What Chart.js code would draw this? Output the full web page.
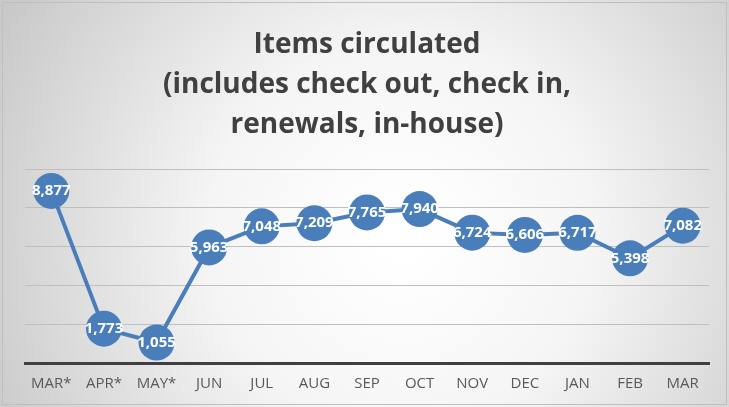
<!DOCTYPE html>
<html>
<head>
<meta charset="utf-8">
<script src="https://cdn.jsdelivr.net/npm/chart.js@4.4.1/dist/chart.umd.min.js"></script>
<style>
  html, body { margin: 0; padding: 0; background: #fff; }
  #wrap { width: 729px; height: 407px; position: relative; }
</style>
</head>
<body>
<div id="wrap"><canvas id="circChart"></canvas></div>
<script>
const months = ['MAR*', 'APR*', 'MAY*', 'JUN', 'JUL', 'AUG', 'SEP', 'OCT', 'NOV', 'DEC', 'JAN', 'FEB', 'MAR'];
const itemsCirculated = [8877, 1773, 1055, 5963, 7048, 7209, 7765, 7940, 6724, 6606, 6717, 5398, 7082];
const titleLines = ['Items circulated', '(includes check out, check in,', 'renewals, in-house)'];

// fond dégradé + cadre
const backdrop = {
    id: 'backdrop',
    beforeDraw(chart) {
        const c = chart.ctx;
        const w = chart.width, h = chart.height;
        c.save();
        const g = c.createRadialGradient(w * 0.55, h * 0.58, 20, w * 0.55, h * 0.58, w * 0.62);
        g.addColorStop(0, '#ffffff');
        g.addColorStop(0.4, '#f5f5f5');
        g.addColorStop(1, '#c9c9c9');
        c.fillStyle = g;
        c.fillRect(0, 0, w, h);
        c.strokeStyle = '#bfbfbf';
        c.lineWidth = 1;
        c.strokeRect(2.5, 2.5, w - 5, h - 5);
        c.restore();
    }
};

// étiquettes de valeurs au centre des points
const pointLabels = {
    id: 'pointLabels',
    afterDatasetsDraw(chart) {
        const c = chart.ctx;
        const meta = chart.getDatasetMeta(0);
        c.save();
        c.fillStyle = '#ffffff';
        c.font = 'bold 15px "Open Sans", Lato, sans-serif';
        c.textAlign = 'center';
        c.textBaseline = 'middle';
        meta.data.forEach((pt, i) => {
            c.fillText(itemsCirculated[i].toLocaleString('en-US'), pt.x, pt.y);
        });
        c.restore();
    }
};

const ctx = document.getElementById('circChart').getContext('2d');
new Chart(ctx, {
    type: 'line',
    data: {
        labels: months,
        datasets: [{
            data: itemsCirculated,
            borderColor: '#4a7ebb',
            borderWidth: 4,
            pointRadius: 18,
            pointBackgroundColor: '#4a7ebb',
            pointBorderColor: '#4a7ebb',
            pointBorderWidth: 0,
            tension: 0
        }]
    },
    options: {
        responsive: true,
        maintainAspectRatio: false,
        animation: false,
        layout: { padding: { left: 25, right: 20, top: 0, bottom: 2 } },
        plugins: {
            legend: { display: false },
            tooltip: { enabled: false },
            title: {
                display: true,
                text: titleLines,
                color: '#404040',
                font: { family: '"Open Sans", Lato, sans-serif', size: 28, weight: 'bold', lineHeight: 1.43 },
                padding: { top: 25, bottom: 24 }
            }
        },
        scales: {
            x: {
                offset: true,
                grid: { display: false, drawTicks: false },
                border: { color: '#404040', width: 3 },
                ticks: {
                    color: '#595959',
                    font: { family: '"Open Sans", Lato, sans-serif', size: 15 },
                    padding: 12,
                    maxRotation: 0,
                    autoSkip: false
                }
            },
            y: {
                min: 0,
                max: 10000,
                ticks: { display: false, stepSize: 2000 },
                border: { display: false },
                grid: { color: '#bfbfbf', lineWidth: 1, drawTicks: false }
            }
        }
    },
    plugins: [backdrop, pointLabels]
});
</script>
</body>
</html>
